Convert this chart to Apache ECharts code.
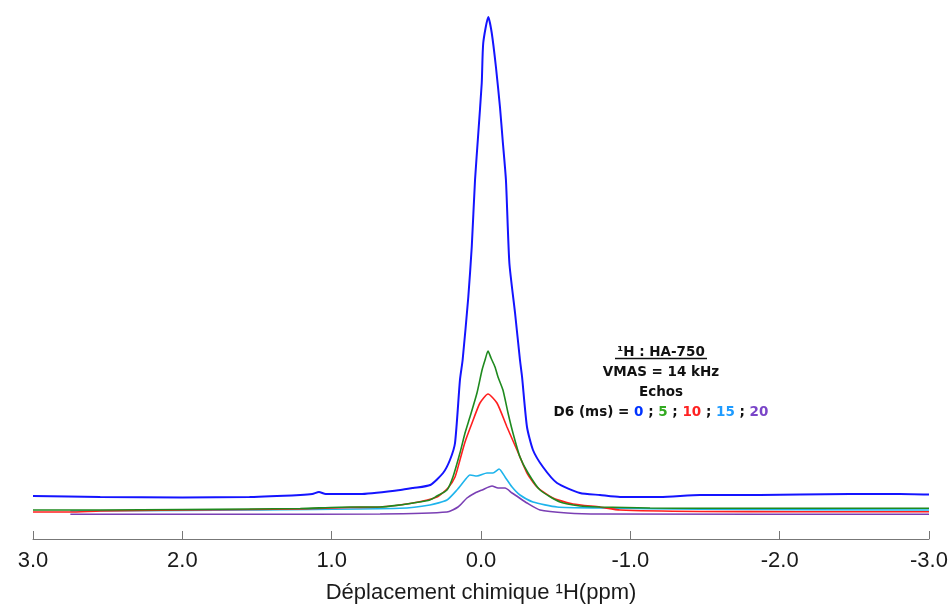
<!DOCTYPE html>
<html>
<head>
<meta charset="utf-8">
<script src="https://cdn.jsdelivr.net/npm/echarts@6/dist/echarts.min.js"></script>
<style>
html,body{margin:0;padding:0;background:#fff;overflow:hidden;}
#chart{width:948px;height:604px;}
</style>
</head>
<body>
<div id="chart"></div>
<script>
// x: chemical shift (ppm), y: intensity (arbitrary units)
var xTicks = [3, 2, 1, 0, -1, -2, -3];
var seriesNames = ['D6 = 0 ms', 'D6 = 5 ms', 'D6 = 10 ms', 'D6 = 15 ms', 'D6 = 20 ms'];

var d0 = [[3.0,43],[2.55,42],[2.0,41.5],[1.55,42],[1.21,44],[1.13,45],[1.085,47],[1.04,45],[0.81,45],[0.54,49],[0.455,51],[0.34,54],[0.254,66],[0.208,79],[0.174,96],[0.141,159],[0.123,179],[0.085,242],[0.062,292],[0.040,359],[0.018,406],[-0.005,456],[-0.015,496],[-0.049,522],[-0.072,506],[-0.100,472],[-0.127,432],[-0.145,399],[-0.167,359],[-0.190,276],[-0.228,226],[-0.261,179],[-0.275,162],[-0.308,112],[-0.348,89],[-0.415,72],[-0.509,56],[-0.663,46],[-0.797,44],[-0.931,42],[-1.2,42],[-1.467,44],[-1.868,44],[-2.136,44.5],[-2.471,45],[-2.806,45],[-3.0,44.5]];

var d5 = [[3.0,29],[2.55,29],[2.0,29.5],[1.55,30],[1.21,30.5],[0.877,32],[0.676,32],[0.542,34],[0.455,36],[0.342,39],[0.295,43],[0.228,49],[0.188,62],[0.141,86],[0.107,106],[0.074,122],[0.027,146],[-0.007,169],[-0.027,179],[-0.047,188],[-0.067,181],[-0.094,172],[-0.114,162],[-0.147,149],[-0.181,126],[-0.214,106],[-0.261,82],[-0.315,66],[-0.395,49],[-0.529,37],[-0.663,33],[-0.797,32],[-1.132,31],[-1.467,30.7],[-2.136,30.7],[-3.0,30.7]];

var d10 = [[3.0,27],[2.75,27],[2.55,28],[2.0,29],[1.55,29.5],[1.21,30],[0.877,31.5],[0.676,32],[0.455,36],[0.295,42],[0.221,51],[0.174,62],[0.141,79],[0.107,97],[0.060,116],[0.007,136],[-0.047,145],[-0.107,136],[-0.174,112],[-0.241,89],[-0.308,66],[-0.375,52],[-0.482,41],[-0.616,35],[-0.797,32],[-0.931,29],[-1.467,27.5],[-2.136,27.3],[-3.0,27.3]];

var d15 = [[2.75,28],[2.0,28.5],[1.55,29],[0.542,30.7],[0.342,34],[0.228,39],[0.161,49],[0.107,59],[0.074,64],[0.027,63],[-0.040,66],[-0.080,66],[-0.121,70],[-0.161,62],[-0.208,52],[-0.261,44],[-0.348,37],[-0.509,32],[-0.797,31],[-1.467,29.7],[-3.0,29]];

var d20 = [[2.75,24.7],[1.55,24.7],[0.676,25],[0.228,27],[0.154,32],[0.094,41],[0.040,46],[-0.007,49],[-0.074,53],[-0.114,51],[-0.161,51],[-0.208,46],[-0.248,42],[-0.308,36],[-0.395,29],[-0.576,26],[-0.797,25],[-3.0,24.7]];

var colors = ['#1414ff', '#1f8a1f', '#ff1f1f', '#1eb4ec', '#7a3fb4'];
var widths = [2, 1.6, 1.6, 1.6, 1.6];
var datasets = [d0, d5, d10, d15, d20];

var chart = echarts.init(document.getElementById('chart'), null, {renderer: 'canvas', width: 948, height: 604});
var series = datasets.map(function (d, i) {
  return {
    name: seriesNames[i],
    type: 'line',
    data: d,
    showSymbol: false,
    smooth: 0.2,
    z: 10 - i,
    lineStyle: {color: colors[i], width: widths[i]},
    itemStyle: {color: colors[i]}
  };
});

var textFont = '"DejaVu Sans", sans-serif';
function rs(color) {
  return {fontSize: 13.5, fontWeight: 'bold', fill: color, fontFamily: textFont, lineHeight: 20};
}
chart.setOption({
  animation: false,
  backgroundColor: '#ffffff',
  grid: {left: 33, right: 19, top: 0, bottom: 65, containLabel: false, outerBoundsMode: 'none'},
  xAxis: {
    type: 'value',
    min: -3, max: 3, interval: 1,
    inverse: true,
    name: 'Déplacement chimique ¹H(ppm)',
    nameLocation: 'middle',
    nameGap: 43,
    nameTextStyle: {fontSize: 22, color: '#1a1a1a', fontFamily: '"Liberation Sans", Arial, sans-serif'},
    axisLine: {lineStyle: {color: '#777', width: 1}},
    axisTick: {inside: true, length: 8, lineStyle: {color: '#777'}},
    splitLine: {show: false},
    axisLabel: {
      fontSize: 22, color: '#1a1a1a', margin: 11,
      fontFamily: '"Liberation Sans", Arial, sans-serif',
      formatter: function (v) { return xTicks.indexOf(v) >= 0 ? v.toFixed(1) : ''; }
    }
  },
  yAxis: {
    type: 'value', min: 0, max: 539, show: false,
    splitLine: {show: false}
  },
  series: series,
  graphic: [
    {
      type: 'text',
      x: 661, y: 342,
      style: {
        x: 0, y: 0,
        align: 'center',
        verticalAlign: 'top',
        text: '{b|¹H : HA-750}\n{b|VMAS = 14 kHz}\n{b|Echos}\n{b|D6 (ms) = }{c0|0}{b| ; }{c1|5}{b| ; }{c2|10}{b| ; }{c3|15}{b| ; }{c4|20}',
        rich: {
          b: rs('#111111'),
          c0: rs('#0033ff'),
          c1: rs('#33aa22'),
          c2: rs('#ff2222'),
          c3: rs('#1e9bff'),
          c4: rs('#7a45c8')
        }
      },
      z: 100
    },
    {
      type: 'line',
      shape: {x1: 615, y1: 358.5, x2: 707, y2: 358.5},
      style: {stroke: '#111111', lineWidth: 1.3},
      z: 100
    }
  ]
});
</script>
</body>
</html>
